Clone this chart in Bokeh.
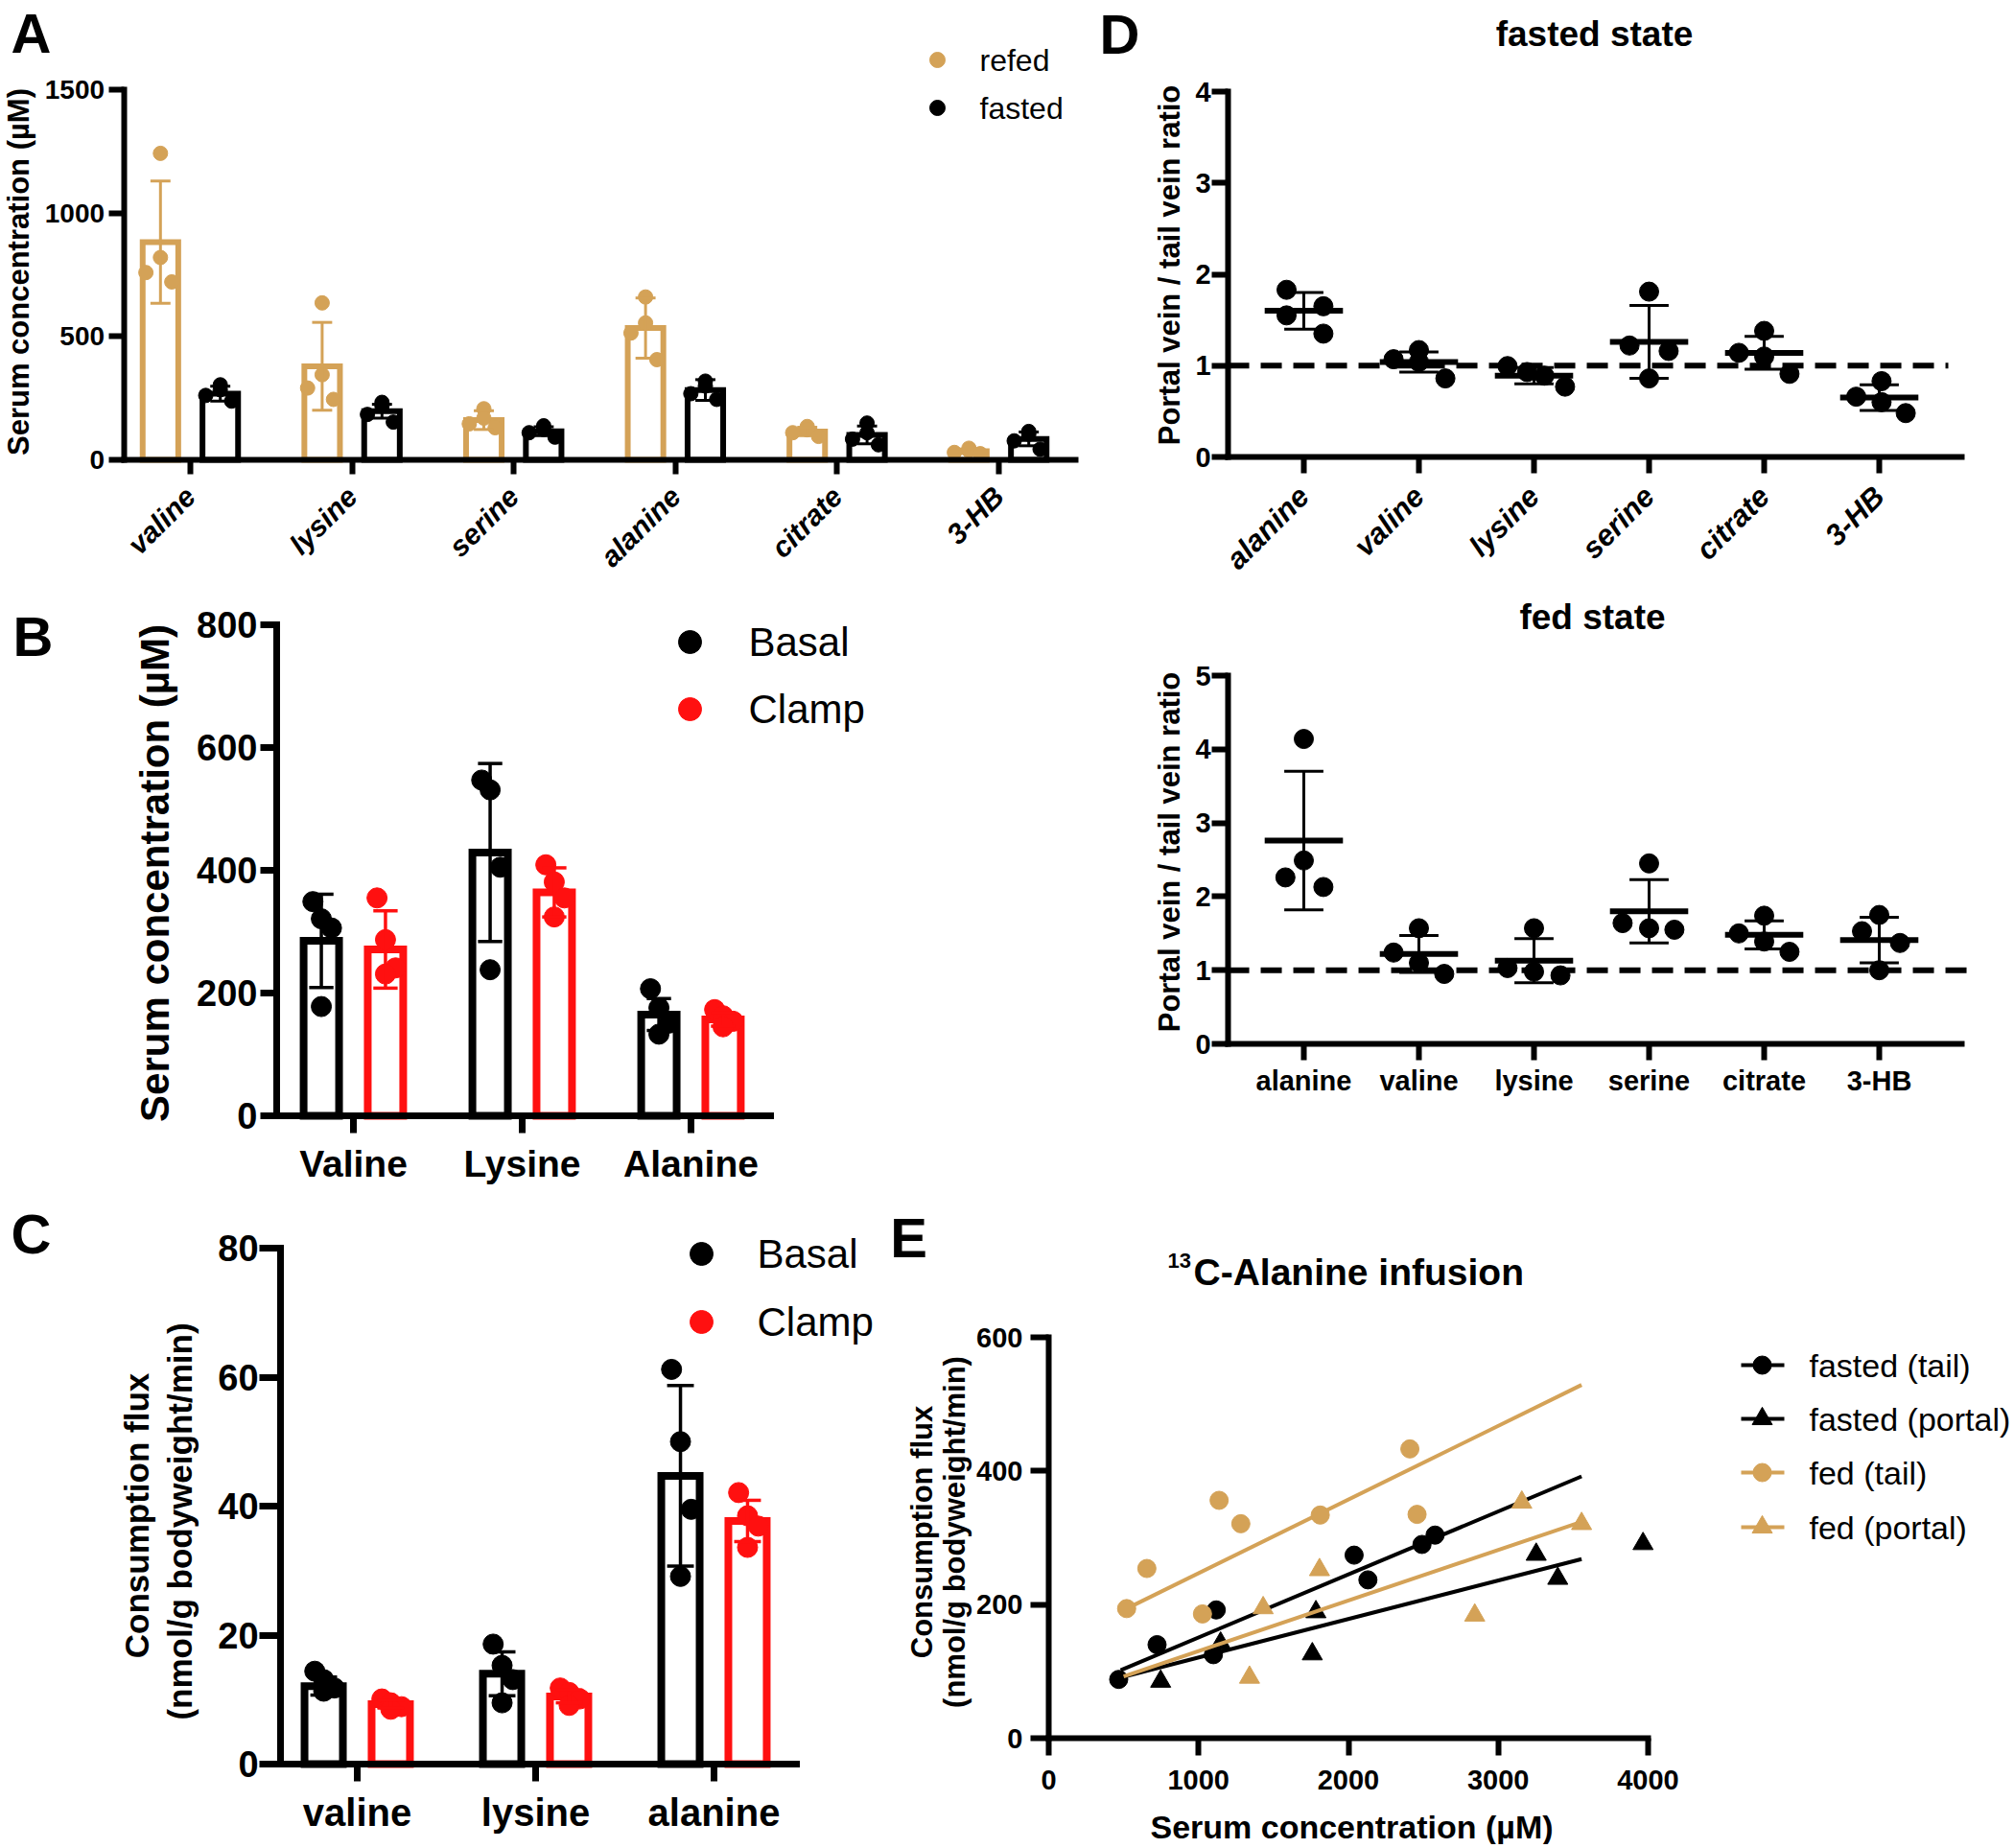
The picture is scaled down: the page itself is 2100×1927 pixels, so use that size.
import math
from bokeh.plotting import figure
from bokeh.models import Range1d, FixedTicker
from bokeh.layouts import row, column
from bokeh.embed import file_html
from bokeh.resources import INLINE
from bokeh.core.properties import value

FONT = "Liberation Sans"
TAN = "#D4A257"
RED = "#FF1010"
BLK = "#000000"

# ---------------- Panel A data ----------------
a_categories = ["valine", "lysine", "serine", "alanine", "citrate", "3-HB"]
a_refed_mean = [882, 379, 161, 534, 115, 35]
a_refed_sd = [248, 178, 38, 122, 17, 9]
a_refed_points = [[1242, 820, 759, 721], [636, 345, 291, 245], [207, 169, 146, 130],
                  [660, 555, 514, 406], [135, 122, 110, 95], [47, 38, 30, 25]]
a_fasted_mean = [268, 197, 116, 283, 101, 85]
a_fasted_sd = [30, 28, 18, 42, 36, 28]
a_fasted_points = [[304, 284, 261, 238], [233, 218, 184, 153], [138, 123, 110, 92],
                   [319, 299, 268, 245], [149, 110, 84, 61], [115, 104, 77, 43]]
a_yticks = [0, 500, 1000, 1500]

# ---------------- Panel B data ----------------
b_categories = ["Valine", "Lysine", "Alanine"]
b_basal_mean = [285, 429, 165]
b_basal_sd = [76, 145, 26]
b_basal_points = [[349, 321, 306, 178], [547, 531, 405, 238], [207, 176, 151, 133]]
b_clamp_mean = [271, 364, 157]
b_clamp_sd = [63, 40, 11]
b_clamp_points = [[355, 287, 241, 231], [409, 381, 355, 324], [173, 163, 154, 145]]
b_yticks = [0, 200, 400, 600, 800]

# ---------------- Panel C data ----------------
c_categories = ["valine", "lysine", "alanine"]
c_basal_mean = [12.1, 14.0, 44.7]
c_basal_sd = [1.4, 3.4, 14.0]
c_basal_points = [[14.4, 13.1, 11.8, 11.3], [18.6, 15.3, 13.1, 9.5], [61.2, 50.0, 39.5, 29.1]]
c_clamp_mean = [9.3, 10.5, 37.7]
c_clamp_sd = [0.6, 1.0, 3.2]
c_clamp_points = [[10.1, 9.5, 8.9, 8.5], [11.8, 11.1, 10.1, 9.1], [42.1, 38.5, 36.9, 33.6]]
c_yticks = [0, 20, 40, 60, 80]

# ---------------- Panel D data ----------------
d_categories = ["alanine", "valine", "lysine", "serine", "citrate", "3-HB"]
d_fasted_mean = [1.60, 1.04, 0.89, 1.26, 1.14, 0.65]
d_fasted_sd = [0.20, 0.11, 0.09, 0.40, 0.18, 0.14]
d_fasted_points = [[1.83, 1.65, 1.55, 1.35], [1.17, 1.07, 1.04, 0.86], [0.995, 0.93, 0.89, 0.77],
                   [1.81, 1.22, 1.16, 0.86], [1.38, 1.14, 1.10, 0.91], [0.83, 0.66, 0.60, 0.48]]
d_fed_mean = [2.76, 1.22, 1.13, 1.80, 1.48, 1.41]
d_fed_sd = [0.94, 0.25, 0.30, 0.43, 0.19, 0.31]
d_fed_points = [[4.14, 2.49, 2.26, 2.13], [1.57, 1.24, 1.10, 0.95], [1.57, 1.03, 0.98, 0.93],
                [2.45, 1.64, 1.57, 1.55], [1.74, 1.50, 1.39, 1.25], [1.75, 1.53, 1.37, 1.00]]
d_reference_ratio = 1.0
d_fasted_yticks = [0, 1, 2, 3, 4]
d_fed_yticks = [0, 1, 2, 3, 4, 5]

# ---------------- Panel E data ----------------
e_fasted_tail_x = [467, 723, 1118, 1099, 2038, 2130, 2491, 2578]
e_fasted_tail_y = [88, 140, 192, 125, 274, 237, 290, 304]
e_fasted_portal_x = [747, 1147, 1759, 1783, 3253, 3397, 3966]
e_fasted_portal_y = [85, 142, 126, 189, 275, 239, 291]
e_fed_tail_x = [520, 655, 1137, 1282, 1026, 1812, 2410, 2458]
e_fed_tail_y = [194, 254, 356, 321, 186, 334, 433, 335]
e_fed_portal_x = [1340, 1431, 1807, 2843, 3157, 3556]
e_fed_portal_y = [91, 195, 252, 184, 353, 321]
e_series = ["fasted (tail)", "fasted (portal)", "fed (tail)", "fed (portal)"]
e_fit_slope = [0.0943, 0.0576, 0.1103, 0.0757]
e_fit_intercept = [56.5, 63.2, 136.6, 54.7]
e_fit_xmin = [480, 480, 520, 500]
e_fit_xmax = [3556, 3556, 3556, 3556]
e_xticks = [0, 1000, 2000, 3000, 4000]
e_yticks = [0, 200, 400, 600]


# ---------------- helpers ----------------
class Panel:
    """A figure whose frame fills the whole figure; page pixel <-> data mapping."""

    def __init__(self, ox, oy, w, h, xref, yref):
        self.ox, self.oy = ox, oy
        p1, v1, p2, v2 = xref
        self.kx = (v2 - v1) / (p2 - p1)
        x0 = v1 - (p1 - ox) * self.kx
        q1, u1, q2, u2 = yref
        self.ky = (u2 - u1) / (q2 - q1)
        self.ytop = u1 - (q1 - oy) * self.ky
        self.x0 = x0
        p = figure(width=w, height=h, title=None, output_backend="svg", toolbar_location=None,
                   x_range=Range1d(x0, x0 + w * self.kx),
                   y_range=Range1d(self.ytop + h * self.ky, self.ytop),
                   min_border_left=0, min_border_right=0, min_border_top=0, min_border_bottom=0)
        p.grid.visible = False
        p.outline_line_color = None
        p.background_fill_color = "white"
        p.border_fill_color = "white"
        self.p = p

    def dx(self, px):
        return self.x0 + (px - self.ox) * self.kx

    def dy(self, py):
        return self.ytop + (py - self.oy) * self.ky

    def text(self, px, py, s, size, style="bold", angle=0.0, align="center", baseline="middle"):
        self.p.text(x=[self.dx(px)], y=[self.dy(py)], text=[s], angle=angle,
                    text_font=value(FONT), text_font_size=f"{size}px", text_font_style=style,
                    text_color="black", text_align=align, text_baseline=baseline)

    def axes(self, xb, yb, xsize, xtick, xstand, ysize, ytick, ystand, lw=6, xstyle="bold"):
        p = self.p
        p.xaxis.fixed_location = yb[0]
        p.xaxis.bounds = xb
        p.yaxis.fixed_location = xb[0]
        p.yaxis.bounds = yb
        for ax, size, tout, stand, style in ((p.xaxis[0], xsize, xtick, xstand, xstyle),
                                             (p.yaxis[0], ysize, ytick, ystand, "bold")):
            ax.axis_line_width = lw
            ax.axis_line_color = "black"
            ax.axis_line_cap = "square"
            ax.major_tick_line_width = lw
            ax.major_tick_line_color = "black"
            ax.major_tick_out = tout
            ax.major_tick_in = 0
            ax.minor_tick_line_color = None
            ax.major_label_standoff = stand
            ax.major_label_text_font = FONT
            ax.major_label_text_font_size = f"{size}px"
            ax.major_label_text_font_style = style
            ax.major_label_text_color = "black"

    def legend_dot(self, px, py, size, color, marker="circle"):
        self.p.scatter([self.dx(px)], [self.dy(py)], marker=marker, size=size,
                       fill_color=color, line_color=color)


def cat_axis(p, cats):
    p.xaxis.ticker = FixedTicker(ticks=list(range(len(cats))))
    p.xaxis.major_label_overrides = {i: c for i, c in enumerate(cats)}


def bar_group(p, means, sds, pts, color, off, width, lw, pt_size, err_lw, cap, jitter):
    n = len(means)
    xs = [i + off for i in range(n)]
    p.vbar(x=xs, top=means, bottom=0, width=width, fill_color="white",
           line_color=color, line_width=lw, line_join="miter")
    px, py = [], []
    for i, vals in enumerate(pts):
        for j, v in enumerate(vals):
            px.append(i + off + jitter[j])
            py.append(v)
    p.scatter(px, py, size=pt_size, fill_color=color, line_color=color)
    lo = [m - s for m, s in zip(means, sds)]
    hi = [m + s for m, s in zip(means, sds)]
    p.segment(x0=xs, y0=lo, x1=xs, y1=hi, line_color=color, line_width=err_lw)
    p.segment(x0=[x - cap for x in xs], y0=hi, x1=[x + cap for x in xs], y1=hi,
              line_color=color, line_width=err_lw)
    p.segment(x0=[x - cap for x in xs], y0=lo, x1=[x + cap for x in xs], y1=lo,
              line_color=color, line_width=err_lw)


# ================= Panel A =================
A = Panel(0, 0, 1140, 615, (198, 0, 1041, 5), (479, 0, 93, 1500))
pa = A.p
cat_axis(pa, a_categories)
pa.yaxis.ticker = FixedTicker(ticks=a_yticks)
A.axes((-0.412, 5.474), (0, 1500), 30, 15, 18, 28, 16, 4, lw=6, xstyle="bold italic")
pa.xaxis.major_label_orientation = math.pi / 4
ja = [0.0, 0.0, -0.09, 0.07]
bar_group(pa, a_refed_mean, a_refed_sd, a_refed_points, TAN, -0.185, 0.22, 6, 15, 3, 0.062, ja)
bar_group(pa, a_fasted_mean, a_fasted_sd, a_fasted_points, BLK, 0.185, 0.22, 6, 15, 3, 0.062, ja)
A.legend_dot(977, 62, 16, TAN)
A.legend_dot(977, 112, 16, BLK)
A.text(1021, 62, "refed", 32, style="normal", align="left")
A.text(1021, 112, "fasted", 32, style="normal", align="left")
A.text(32, 34, "A", 58)
A.text(19, 283, "Serum concentration (µM)", 31, angle=math.pi / 2)

# ================= Panel B =================
B = Panel(0, 615, 1140, 635, (368, 0, 720, 2), (1163, 0, 651, 800))
pb = B.p
cat_axis(pb, b_categories)
pb.yaxis.ticker = FixedTicker(ticks=b_yticks)
B.axes((-0.4545, 2.4716), (0, 800), 39, 18, 10, 38, 17, 3, lw=7)
jb = [-0.05, 0.0, 0.06, 0.0]
bar_group(pb, b_basal_mean, b_basal_sd, b_basal_points, BLK, -0.19, 0.21, 8, 21, 3.5, 0.072, jb)
bar_group(pb, b_clamp_mean, b_clamp_sd, b_clamp_points, RED, 0.19, 0.21, 8, 21, 3.5, 0.072, jb)
B.legend_dot(719, 669, 24, BLK)
B.legend_dot(719, 739, 24, RED)
B.text(780, 669, "Basal", 42, style="normal", align="left")
B.text(780, 739, "Clamp", 42, style="normal", align="left")
B.text(34, 663, "B", 58)
B.text(161, 910, "Serum concentration (µM)", 42, angle=math.pi / 2)

# ================= Panel C =================
C = Panel(0, 1250, 920, 673, (372, 0, 744, 2), (1839, 0, 1301, 80))
pc = C.p
cat_axis(pc, c_categories)
pc.yaxis.ticker = FixedTicker(ticks=c_yticks)
C.axes((-0.430, 2.462), (0, 80), 40, 18, 10, 38, 22, 1, lw=7)
bar_group(pc, c_basal_mean, c_basal_sd, c_basal_points, BLK, -0.188, 0.215, 8, 21, 3.5, 0.075, jb)
bar_group(pc, c_clamp_mean, c_clamp_sd, c_clamp_points, RED, 0.188, 0.215, 8, 21, 3.5, 0.075, jb)
C.legend_dot(731, 1307, 24, BLK)
C.legend_dot(731, 1378, 24, RED)
C.text(789, 1307, "Basal", 42, style="normal", align="left")
C.text(789, 1378, "Clamp", 42, style="normal", align="left")
C.text(32, 1286, "C", 58)
C.text(142, 1580, "Consumption flux", 35, angle=math.pi / 2)
C.text(187, 1586, "(nmol/g bodyweight/min)", 35, angle=math.pi / 2)


# ================= Panel D =================
def ratio_panel(p, means, sds, pts, jit, dash_end):
    n = len(means)
    xs = list(range(n))
    p.line([-0.658, dash_end], [d_reference_ratio, d_reference_ratio], line_color="black",
           line_width=6, line_dash="22 12")
    hi = [m + s for m, s in zip(means, sds)]
    lo = [m - s for m, s in zip(means, sds)]
    px, py = [], []
    for i, vals in enumerate(pts):
        for j, v in enumerate(vals):
            px.append(i + jit[i][j])
            py.append(v)
    p.scatter(px, py, size=20, color="black")
    p.segment(x0=[x - 0.34 for x in xs], y0=means, x1=[x + 0.34 for x in xs], y1=means,
              line_color="black", line_width=6)
    p.segment(x0=xs, y0=lo, x1=xs, y1=hi, line_color="black", line_width=3)
    p.segment(x0=[x - 0.17 for x in xs], y0=hi, x1=[x + 0.17 for x in xs], y1=hi,
              line_color="black", line_width=3)
    p.segment(x0=[x - 0.17 for x in xs], y0=lo, x1=[x + 0.17 for x in xs], y1=lo,
              line_color="black", line_width=3)


D1 = Panel(1140, 0, 956, 615, (1359, 0, 1959, 5), (476, 0, 95, 4))
pd1 = D1.p
cat_axis(pd1, d_categories)
pd1.yaxis.ticker = FixedTicker(ticks=d_fasted_yticks)
D1.axes((-0.658, 5.717), (0, 4), 31, 17, 19, 29, 17, 1, lw=6, xstyle="bold italic")
pd1.xaxis.major_label_orientation = math.pi / 4
jit_fasted = [[-0.15, 0.17, -0.15, 0.17], [0.0, -0.22, 0.0, 0.23], [-0.23, -0.06, 0.09, 0.27],
              [0.0, -0.17, 0.17, 0.0], [0.0, -0.22, 0.0, 0.22], [0.02, -0.2, 0.02, 0.23]]
ratio_panel(pd1, d_fasted_mean, d_fasted_sd, d_fasted_points, jit_fasted, 5.6)
D1.text(1167, 35, "D", 58)
D1.text(1662, 35, "fasted state", 37)
D1.text(1219, 276, "Portal vein / tail vein ratio", 31, angle=math.pi / 2)

D2 = Panel(1140, 615, 956, 635, (1359, 0, 1959, 5), (1088, 0, 704, 5))
pd2 = D2.p
cat_axis(pd2, d_categories)
pd2.yaxis.ticker = FixedTicker(ticks=d_fed_yticks)
D2.axes((-0.658, 5.717), (0, 5), 29, 17, 5, 29, 17, 1, lw=6)
jit_fed = [[0.0, 0.0, -0.16, 0.17], [0.0, -0.22, 0.0, 0.22], [0.0, -0.23, 0.0, 0.23],
           [0.0, -0.23, 0.0, 0.22], [0.0, -0.22, 0.0, 0.22], [0.0, -0.15, 0.18, 0.0]]
ratio_panel(pd2, d_fed_mean, d_fed_sd, d_fed_points, jit_fed, 5.8)
D2.text(1660, 643, "fed state", 37)
D2.text(1219, 888, "Portal vein / tail vein ratio", 31, angle=math.pi / 2)

# ================= Panel E =================
E = Panel(920, 1250, 1176, 673, (1093, 0, 1718, 4000), (1812, 0, 1394, 600))
pe = E.p
pe.xaxis.ticker = FixedTicker(ticks=e_xticks)
pe.yaxis.ticker = FixedTicker(ticks=e_yticks)
E.axes((0, 4000), (0, 600), 29, 18, 15, 29, 19, 8, lw=6)
series_xy = [(e_fasted_tail_x, e_fasted_tail_y), (e_fasted_portal_x, e_fasted_portal_y),
             (e_fed_tail_x, e_fed_tail_y), (e_fed_portal_x, e_fed_portal_y)]
series_style = [(BLK, "circle", 19), (BLK, "triangle", 21), (TAN, "circle", 19), (TAN, "triangle", 21)]
legend_rows = [1423, 1479, 1535, 1592]
for i, ((xs, ys), (col, mk, sz)) in enumerate(zip(series_xy, series_style)):
    fx = [e_fit_xmin[i], e_fit_xmax[i]]
    fy = [e_fit_slope[i] * x + e_fit_intercept[i] for x in fx]
    pe.line(fx, fy, line_color=col, line_width=4)
    pe.scatter(xs, ys, marker=mk, size=sz, fill_color=col, line_color=col)
    ly = legend_rows[i]
    pe.line([E.dx(1815), E.dx(1860)], [E.dy(ly), E.dy(ly)], line_color=col, line_width=4)
    E.legend_dot(1837, ly, sz, col, marker=mk)
    E.text(1886, ly, e_series[i], 34, style="normal", align="left")
E.text(947, 1290, "E", 58)
E.text(1217, 1314, "13", 22, align="left")
E.text(1244, 1326, "C-Alanine infusion", 39, align="left")
E.text(961, 1597, "Consumption flux", 31, angle=math.pi / 2)
E.text(995, 1597, "(nmol/g bodyweight/min)", 31, angle=math.pi / 2)
E.text(1409, 1904, "Serum concentration (µM)", 34)

layout = column(row(pa, pd1, spacing=0), row(pb, pd2, spacing=0), row(pc, pe, spacing=0), spacing=0)
open("out.html", "w").write(file_html(layout, INLINE))
